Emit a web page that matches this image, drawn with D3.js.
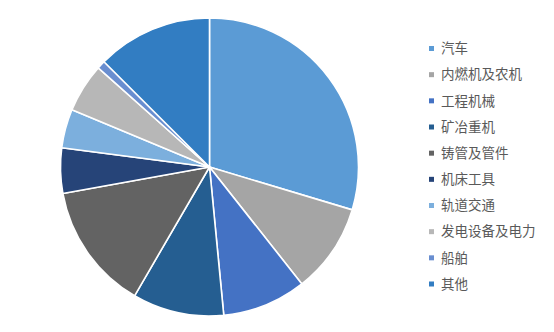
<!DOCTYPE html>
<html>
<head>
<meta charset="utf-8">
<script src="https://cdn.jsdelivr.net/npm/d3@7"></script>
<style>
  body { margin: 0; background: #fff; }
  text { font-family: "Noto Sans CJK SC", sans-serif; }
</style>
</head>
<body>
<svg id="chart" width="554" height="332"></svg>
<script>
// share of each category (percent)
const categories = ["汽车", "内燃机及农机", "工程机械", "矿冶重机", "铸管及管件",
  "机床工具", "轨道交通", "发电设备及电力", "船舶", "其他"];
const shares = [29.6, 9.7, 9.1, 9.9, 13.75, 4.9, 4.2, 5.3, 0.9, 12.5];
const colors = ["#5b9bd5", "#a5a5a5", "#4472c4", "#255e91", "#636363",
  "#264478", "#7cafdd", "#b7b7b7", "#698ed0", "#327dc2"];

const svg = d3.select("#chart");
const data = categories.map((c, i) => ({label: c, value: shares[i]}));

let pie = d3.pie()
    .sort(null)
    .value(d => d.value);

let arc = d3.arc()
    .innerRadius(0)
    .outerRadius(149);

let color = d3.scaleOrdinal()
    .domain(categories)
    .range(colors);

let piegroup = svg.append("g")
    .attr("transform", "translate(209.5,167)");

piegroup.selectAll("path")
    .data(pie(data))
    .enter().append("path")
    .attr("d", arc)
    .attr("fill", d => color(d.data.label))
    .attr("stroke", "white")
    .attr("stroke-width", 1.6)
    .attr("stroke-linejoin", "round");

// legend
let rowY = d3.scalePoint()
    .domain(categories)
    .range([48.5, 284]);

let legend = svg.append("g").attr("class", "legend");
let rows = legend.selectAll("g")
    .data(categories)
    .enter().append("g")
    .attr("transform", d => "translate(429," + rowY(d) + ")");

rows.append("rect")
    .attr("x", 0)
    .attr("y", -2.5)
    .attr("width", 5)
    .attr("height", 5)
    .attr("fill", d => color(d));

rows.append("text")
    .attr("x", 12)
    .attr("dy", "0.35em")
    .attr("font-size", "13.5px")
    .attr("fill", "#595959")
    .text(d => d);
</script>
</body>
</html>
